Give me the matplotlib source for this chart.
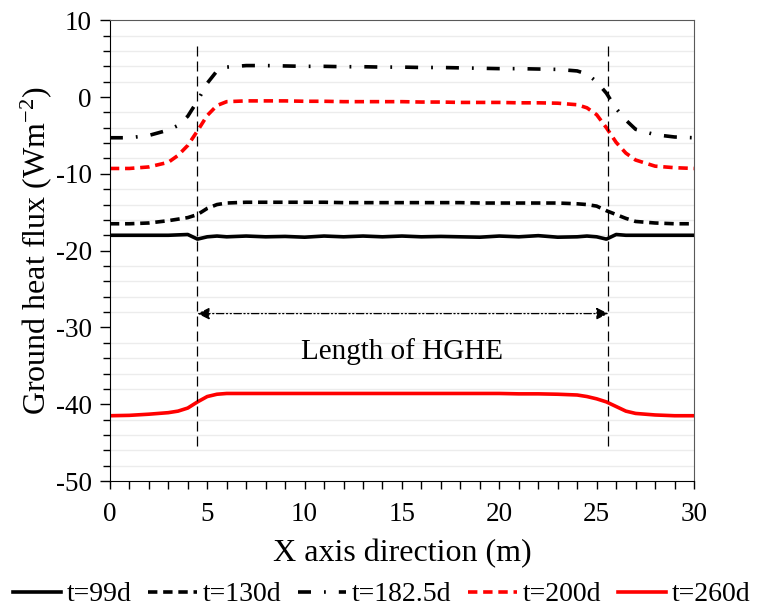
import numpy as np
import matplotlib
matplotlib.use('Agg')
import matplotlib.pyplot as plt

plt.rcParams['font.family'] = ['Liberation Serif', 'DejaVu Serif']
plt.rcParams['mathtext.fontset'] = 'custom'
plt.rcParams['mathtext.rm'] = 'Liberation Serif'
plt.rcParams['mathtext.it'] = 'Liberation Serif:italic'
plt.rcParams['axes.unicode_minus'] = False

# x positions (m)
x_pos = [0, 1, 2, 3, 3.5, 4, 4.5, 5, 5.5, 6, 7, 8, 9, 10, 11, 12, 13, 14, 15, 16, 17, 18,
         19, 20, 21, 22, 23, 24, 24.5, 25, 25.5, 26, 26.5, 27, 28, 29, 30]

flux_99 = [-18.0, -18.0, -18.0, -18.0, -17.95, -17.9, -18.5, -18.2, -18.1, -18.2, -18.1, -18.2,
           -18.15, -18.25, -18.1, -18.2, -18.1, -18.2, -18.1, -18.2, -18.15, -18.2, -18.25, -18.1,
           -18.2, -18.05, -18.25, -18.2, -18.1, -18.2, -18.5, -17.9, -18.0, -18.0, -18.0, -18.0, -18.0]
flux_130 = [-16.5, -16.5, -16.4, -16.1, -15.9, -15.7, -15.3, -14.5, -14.0, -13.8, -13.7, -13.7,
            -13.7, -13.7, -13.7, -13.75, -13.75, -13.75, -13.75, -13.75, -13.75, -13.75, -13.8, -13.8,
            -13.8, -13.8, -13.8, -13.9, -14.0, -14.2, -14.8, -15.3, -15.8, -16.2, -16.4, -16.5, -16.5]
flux_182 = [-5.3, -5.3, -5.0, -4.3, -3.7, -2.5, -0.5, 1.8, 3.4, 3.9, 4.1, 4.1, 4.05, 4.0, 4.0,
            3.95, 3.95, 3.9, 3.9, 3.85, 3.85, 3.8, 3.75, 3.7, 3.7, 3.65, 3.6, 3.4, 3.0, 2.0, 0.5,
            -1.5, -3.0, -4.2, -4.9, -5.2, -5.3]
flux_200 = [-9.3, -9.3, -9.1, -8.5, -7.6, -6.3, -4.4, -2.4, -1.1, -0.6, -0.5, -0.5, -0.5, -0.55,
            -0.55, -0.6, -0.6, -0.6, -0.6, -0.65, -0.65, -0.7, -0.7, -0.7, -0.75, -0.75, -0.8, -1.0,
            -1.4, -2.3, -4.0, -5.9, -7.3, -8.2, -9.0, -9.2, -9.3]
flux_260 = [-41.5, -41.45, -41.3, -41.1, -40.9, -40.5, -39.7, -39.0, -38.7, -38.6, -38.6, -38.6,
            -38.6, -38.6, -38.6, -38.6, -38.6, -38.6, -38.6, -38.6, -38.6, -38.6, -38.6, -38.6,
            -38.65, -38.65, -38.7, -38.8, -39.0, -39.3, -39.7, -40.3, -40.9, -41.2, -41.4, -41.5, -41.5]

hghe_start = 4.5
hghe_end = 25.6

fig = plt.figure(figsize=(7.63, 6.14), dpi=100)
ax = fig.add_axes([0.144, 0.2166, 0.7656, 0.7504])

lw = 2.6
ax.plot(x_pos, flux_99, color='black', lw=lw, label='t=99d')
ax.plot(x_pos, flux_130, color='black', lw=lw, dashes=(2.6, 1.6), label='t=130d')
ax.plot(x_pos, flux_182, color='black', lw=lw, dashes=(3.6, 3.6, 0.5, 3.6), label='t=182.5d')
ax.plot(x_pos, flux_200, color='red', lw=lw, dashes=(2.6, 1.6), label='t=200d')
ax.plot(x_pos, flux_260, color='red', lw=lw, label='t=260d')

# HGHE boundaries
for xv in [hghe_start, hghe_end]:
    ax.plot([xv, xv], [6.7, -46], color='black', lw=0.9, dashes=(8, 4))
ax.annotate('', xy=(hghe_end, -28.2), xytext=(hghe_start, -28.2),
            arrowprops=dict(arrowstyle='<|-|>', color='black', lw=0.9, linestyle=(0, (6, 2, 1, 2, 1, 2)),
                            mutation_scale=18, shrinkA=0, shrinkB=0))
ax.text(15, -33.2, 'Length of HGHE', ha='center', va='center', fontsize=21)

ax.set_xlim(0, 30)
ax.set_ylim(-50, 10)
ax.set_xticks(range(0, 31, 5))
ax.set_xticks(range(0, 31), minor=True)
ax.set_yticks(range(-50, 11, 10))
ax.set_yticks(range(-50, 11, 2), minor=True)
ax.tick_params(which='major', direction='out', length=7, width=1, labelsize=19.5)
ax.tick_params(which='minor', direction='out', length=5, width=1)
ax.tick_params(axis='x', which='minor', length=6)
ax.tick_params(axis='x', which='major', length=6, pad=9)
ax.tick_params(axis='y', which='major', pad=6)
ax.grid(axis='y', which='minor', color='#ececec', lw=1)
ax.set_axisbelow(True)
for s in ['top', 'right']:
    ax.spines[s].set_color('#595959')
ax.set_xlabel('X axis direction (m)', fontsize=23, labelpad=9)
ax.set_ylabel('Ground heat flux (Wm$^{-2}$)', fontsize=23, labelpad=1)

fig.legend(loc='lower center', bbox_to_anchor=(0.5, -0.03), ncol=5, frameon=False, fontsize=20,
           handlelength=1.75, handletextpad=0.2, columnspacing=0.6)

fig.savefig('out.png', dpi=100)
